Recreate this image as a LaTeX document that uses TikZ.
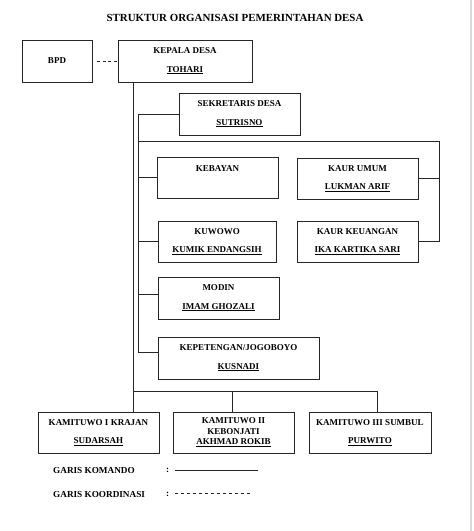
\documentclass[tikz,border=0pt]{standalone}
\usepackage{fontspec}
\setmainfont{Liberation Serif}
\usetikzlibrary{calc}
\colorlet{BoxLine}{black!85}
\tikzset{
    unit/.style={draw=BoxLine, line width=1pt, inner sep=0pt, outer sep=0pt,
        align=center, font=\bfseries\fontsize{9}{10.5}\selectfont},
    link/.style={draw=BoxLine, line width=0.8pt},
    legend/.style={anchor=west, inner sep=0pt, font=\bfseries\fontsize{9.2}{11}\selectfont}
}

\begin{document}
\begin{tikzpicture}[x=1pt, y=-1pt]

    \useasboundingbox (0,0) rectangle (474,531);
    \draw[black!15, line width=1.5pt] (471,0) -- (471,531);

    \node (judul) at (235,18) [font=\bfseries\fontsize{10.9}{13}\selectfont] {STRUKTUR ORGANISASI PEMERINTAHAN DESA};

    % Pimpinan desa.
    \node (bpd) at (57,61) [unit, minimum width=70, minimum height=42] {BPD};
    \node (kades) at (185,61) [unit, minimum width=134, minimum height=42]
        {KEPALA DESA\\[8pt]\underline{TOHARI}};
    \node (sekdes) at (239.5,114) [unit, minimum width=121, minimum height=42]
        {SEKRETARIS DESA\\[8pt]\underline{SUTRISNO}};

    % Pelaksana dan kaur.
    \node (kebayan) at (217.5,177.5) [unit, minimum width=121, minimum height=41]
        {KEBAYAN\\[8pt]\phantom{X}};
    \node (kaurumum) at (357.5,178.5) [unit, minimum width=121, minimum height=41]
        {KAUR UMUM\\[8pt]\underline{LUKMAN ARIF}};
    \node (kuwowo) at (217,241.5) [unit, minimum width=118, minimum height=41]
        {KUWOWO\\[8pt]\underline{KUMIK ENDANGSIH}};
    \node (kaurkeu) at (357.5,241.5) [unit, minimum width=121, minimum height=41]
        {KAUR KEUANGAN\\[8pt]\underline{IKA KARTIKA SARI}};
    \node (modin) at (218.5,298) [unit, minimum width=121, minimum height=42]
        {MODIN\\[8pt]\underline{IMAM GHOZALI}};
    \node (kepeteng) at (238.5,358) [unit, minimum width=161, minimum height=42]
        {KEPETENGAN/JOGOBOYO\\[8pt]\underline{KUSNADI}};

    % Kamituwo.
    \node (kami1) at (98.5,432.5) [unit, minimum width=121, minimum height=41]
        {KAMITUWO I KRAJAN\\[8pt]\underline{SUDARSAH}};
    \node (kami2) at (233.5,432.5) [unit, minimum width=121, minimum height=41]
        {KAMITUWO II\\KEBONJATI\\\underline{AKHMAD ROKIB}};
    \node (kami3) at (370,432.5) [unit, minimum width=122, minimum height=41]
        {KAMITUWO III SUMBUL\\[8pt]\underline{PURWITO}};

    % Garis komando.
    \coordinate (tulang) at (133,391);
    \coordinate (tulangdua) at (138,352);
    \coordinate (kanan) at (439,141);
    \coordinate (cabang2) at (232,391);
    \coordinate (cabang3) at (377,391);

    \draw[link] (kades.south -| tulang) -- (tulang);
    \draw[link] (tulang) -- (cabang3);
    \draw[link] (tulang) -- (kami1.north -| tulang);
    \draw[link] (cabang2) -- (kami2.north -| cabang2);
    \draw[link] (cabang3) -- (kami3.north -| cabang3);

    \draw[link] (sekdes.west) -- (sekdes.west -| tulangdua) -- (tulangdua) -- (tulangdua -| kepeteng.west);
    \draw[link] (kanan -| tulangdua) -- (kanan) -- (kaurkeu.east -| kanan) -- (kaurkeu.east);
    \draw[link] (kaurumum.east) -- (kaurumum.east -| kanan);
    \draw[link] (kebayan.west -| tulangdua) -- (kebayan.west);
    \draw[link] (kuwowo.west -| tulangdua) -- (kuwowo.west);
    \draw[link] ($(modin.west -| tulangdua)+(0,-4)$) -- ($(modin.west)+(0,-4)$);

    % Garis koordinasi.
    \draw[link, dash pattern=on 3pt off 2.5pt, shorten <=5pt, shorten >=1pt] (bpd.east) -- (kades.west);

    % Keterangan.
    \node (komando) at (53,470) [legend] {GARIS KOMANDO};
    \node (titikdua1) at (166,470) [legend] {:};
    \node (koordinasi) at (53,494) [legend] {GARIS KOORDINASI};
    \node (titikdua2) at (166,494) [legend] {:};
    \coordinate (garis1) at (258,470);
    \coordinate (garis2) at (252,493);
    \draw[link] (titikdua1.east) ++(6,0) -- (garis1);
    \draw[link, dash pattern=on 3pt off 3pt] (titikdua2.east |- garis2) ++(6,0) -- (garis2);
\end{tikzpicture}
\end{document}
